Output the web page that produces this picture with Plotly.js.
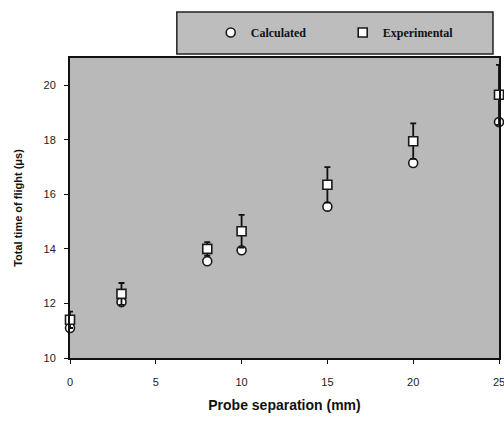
<!DOCTYPE html>
<html>
<head>
<meta charset="utf-8">
<script src="https://cdn.plot.ly/plotly-3.0.1.min.js"></script>
<style>html,body{margin:0;padding:0;background:#fff;}#chart{width:504px;height:423px;}</style>
</head>
<body>
<div id="chart"></div>
<script>
// Data
const separation = [0, 3, 8, 10, 15, 20, 25];            // Probe separation (mm)
const calculated = [11.1, 12.05, 13.55, 13.95, 15.55, 17.15, 18.65]; // µs
const experimental = [11.4, 12.35, 14.0, 14.65, 16.35, 17.95, 19.65]; // µs
const expError = [0.3, 0.4, 0.25, 0.6, 0.65, 0.65, 1.1];  // µs

const markerLine = {color: '#1a1a1a', width: 1.6};

const traces = [
  {
    x: separation, y: calculated, name: 'Calculated', type: 'scatter', mode: 'markers',
    cliponaxis: false,
    marker: {symbol: 'circle', size: 9, color: '#ffffff', line: markerLine}
  },
  {
    x: separation, y: experimental, name: 'Experimental', type: 'scatter', mode: 'markers',
    cliponaxis: false,
    error_y: {type: 'data', array: expError, visible: true, color: '#111111', thickness: 1.8, width: 3},
    marker: {symbol: 'square', size: 9, color: '#ffffff', line: markerLine}
  }
];

const layout = {
  width: 504, height: 423,
  margin: {l: 70, r: 5, t: 58, b: 65, autoexpand: false},
  paper_bgcolor: '#ffffff',
  plot_bgcolor: '#b9b9b9',
  showlegend: true,
  legend: {
    orientation: 'h', x: 0.328, y: 1.085, xanchor: 'left', yanchor: 'middle',
    bgcolor: 'rgba(0,0,0,0)', borderwidth: 0,
    itemwidth: 30, entrywidth: 87, entrywidthmode: 'pixels',
    font: {family: 'Liberation Serif, Times New Roman, serif', size: 12, color: '#111', weight: 'bold'}
  },
  shapes: [{
    type: 'rect', xref: 'paper', yref: 'paper',
    x0: 0.249, x1: 0.986, y0: 1.013, y1: 1.153,
    fillcolor: '#bdbdbd', line: {color: '#222', width: 1.5}, layer: 'below'
  }],
  xaxis: {
    range: [0, 25], dtick: 5, tick0: 0,
    showgrid: false, zeroline: false,
    showline: true, linecolor: '#111', linewidth: 2, mirror: true,
    ticks: 'outside', ticklen: 4, tickcolor: '#111',
    ticklabelstandoff: 9, ticklabeloverflow: 'allow',
    tickfont: {family: 'Liberation Sans, Arial, sans-serif', size: 11, color: '#222'},
    title: {text: 'Probe separation (mm)', standoff: 13,
      font: {family: 'Liberation Sans, Arial, sans-serif', size: 14, color: '#111', weight: 'bold'}}
  },
  yaxis: {
    range: [10, 21], dtick: 2, tick0: 10,
    showgrid: false, zeroline: false,
    showline: true, linecolor: '#111', linewidth: 2, mirror: true,
    ticks: 'outside', ticklen: 4, tickcolor: '#111',
    ticklabelstandoff: 6,
    tickfont: {family: 'Liberation Sans, Arial, sans-serif', size: 11, color: '#222'},
    title: {text: 'Total time of flight (μs)', standoff: 19,
      font: {family: 'Liberation Sans, Arial, sans-serif', size: 11, color: '#111', weight: 'bold'}}
  }
};

Plotly.newPlot('chart', traces, layout, {displayModeBar: false, staticPlot: true});
</script>
</body>
</html>
